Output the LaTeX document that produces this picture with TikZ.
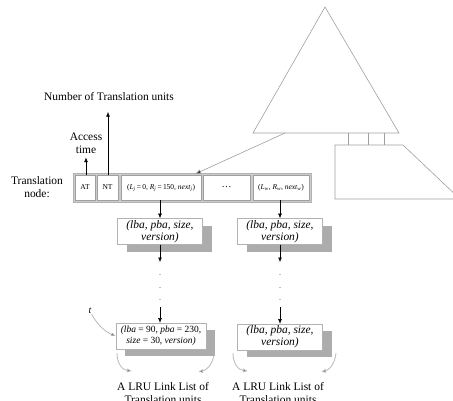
\documentclass[tikz,border=0pt]{standalone}
\usepackage{fontspec}
\setmainfont{Liberation Serif}
\usetikzlibrary{arrows.meta,shadows}
\begin{document}
\begin{tikzpicture}[x=1bp,y=-1bp,
  lbl/.style={font=\fontsize{11.5}{13}\selectfont, align=center, inner sep=0},
  cell/.style={draw=gray!75, line width=0.7pt, fill=white, minimum height=25bp, inner sep=0, font=\fontsize{7.5}{9}\selectfont},
  ubox/.style={draw=gray!60, fill=white, line width=0.6pt, minimum width=85bp, minimum height=26bp, inner sep=1pt, align=center,
    font=\fontsize{11.5}{12}\selectfont\itshape,
    drop shadow={shadow xshift=9bp, shadow yshift=-7bp, fill=gray!65, opacity=1}},
  arr/.style={-{Latex[length=4.5bp,width=3.8bp]}, line width=0.5pt},
  thin/.style={gray!75, line width=0.6pt},
  curv/.style={gray!55, line width=0.8pt, -{Latex[length=5bp,width=4bp,fill=black!85]}}
]
\useasboundingbox (0,0) rectangle (453,400);

% tree and block
\draw[thin] (325,7) -- (399,133) -- (253,133) -- cycle;
\draw[thin] (348,133) -- (348,145) (368,133) -- (368,145) (384,133) -- (384,145);
\draw[thin] (335,145) -- (403,145) -- (460,199) -- (335,199) -- cycle;
\coordinate (tb) at (285,133);

% translation node
\node[draw=gray!60, fill=gray!40, line width=0.8pt, minimum width=238bp, minimum height=29bp, inner sep=0] (tn) at (192,187.5) {};
\node[cell, minimum width=20bp] (at) at (85,187.5) {AT};
\node[cell, minimum width=21bp] (nt) at (107.5,187.5) {NT};
\node[cell, minimum width=80bp] (lj) at (161,187.5) {(\textit{L}\textsubscript{\textit{j}}\,=\,0, \textit{R}\textsubscript{\textit{j}}\,=\,150, \textit{next}\textsubscript{\textit{j}})};
\node[cell, minimum width=47bp, font=\fontsize{10}{10}\selectfont] (dd) at (226.5,187.5) {\dots};
\node[cell, minimum width=56bp] (lw) at (281,187.5) {(\textit{L}\textsubscript{\textit{w}}, \textit{R}\textsubscript{\textit{w}}, \textit{next}\textsubscript{\textit{w}})};

\node[lbl] (tnl) at (37,187) {Translation\\node:};
\node[lbl] (acc) at (86,143) {Access\\time};
\node[lbl] (num) at (109,97) {Number of Translation units};

\coordinate (numend) at (108,112);
\draw[arr] (at.north -| acc.south) -- (acc.south) [shorten >=4bp];
\draw[arr] (nt.north -| numend) -- (numend);
\coordinate (tnin) at (195,174);
\draw[gray!75, line width=0.6pt, -{Latex[length=6bp,width=4.5bp,fill=black!85]}] (tb) -- (tnin);

% list boxes
\node[ubox] (b1) at (160,231.5) {(lba, pba, size,\\version)};
\node[ubox] (b2) at (280,231.5) {(lba, pba, size,\\version)};
\node[ubox, minimum width=90bp, font=\fontsize{9.5}{11}\selectfont\itshape] (b3) at (161,336) {(lba \textup{= 90,} pba \textup{= 230,}\\size \textup{= 30,} version)};
\node[ubox] (b4) at (280,337) {(lba, pba, size,\\version)};

\draw[arr] (lj.south -| b1.north) -- (b1.north);
\draw[arr] (lw.south -| b2.north) -- (b2.north);

% chains
\coordinate (l1) at (160,262); \coordinate (l2) at (160,274); \coordinate (l3) at (160,300); \coordinate (l4) at (160,307);
\coordinate (r1) at (280,262); \coordinate (r2) at (280,274); \coordinate (r3) at (280,300); \coordinate (r4) at (280,307);
\draw[arr] (b1.south) -- (l1);
\draw[gray!50, line width=1.1pt, dash pattern=on 1.2bp off 11.5bp] (l2) -- (l3);
\draw[arr] (l4) -- (b3.north -| l4);
\draw[arr] (b2.south) -- (r1);
\draw[gray!50, line width=1.1pt, dash pattern=on 1.2bp off 11.5bp] (r2) -- (r3);
\draw[arr] (r4) -- (b4.north -| r4);

% t pointer
\node[font=\fontsize{10}{10}\selectfont\itshape, inner sep=0] (tl) at (90,311) {t};
\draw[gray!60, line width=0.7pt, -{Latex[length=4.5bp,width=3.5bp,fill=black!85]}] (tl.south east) .. controls (98,326) and (106,332) .. (b3.west);

% LRU curves
\coordinate (a1) at (117,353); \coordinate (a2) at (132,371);
\coordinate (a3) at (214,355); \coordinate (a4) at (198,372);
\coordinate (a5) at (233,353); \coordinate (a6) at (248,371);
\coordinate (a7) at (336,353); \coordinate (a8) at (321,372);
\draw[curv] (a1) .. controls (117,363) and (122,370) .. (a2);
\draw[curv] (a3) .. controls (212,365) and (207,370) .. (a4);
\draw[curv] (a5) .. controls (233,363) and (238,370) .. (a6);
\draw[curv] (a7) .. controls (335,364) and (329,370) .. (a8);

\node[lbl, font=\fontsize{11.5}{14}\selectfont] (ll1) at (163,393) {A LRU Link List of\\Translation units};
\node[lbl, font=\fontsize{11.5}{14}\selectfont] (ll2) at (278,393) {A LRU Link List of\\Translation units};
\end{tikzpicture}
\end{document}
